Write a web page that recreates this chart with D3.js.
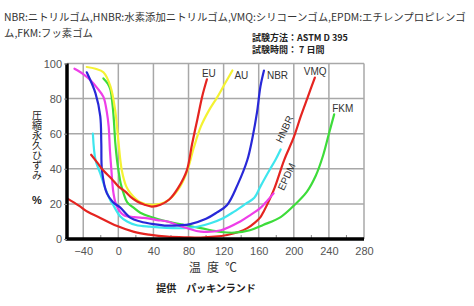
<!DOCTYPE html>
<html>
<head>
<meta charset="utf-8">
<script src="https://cdn.jsdelivr.net/npm/d3@7"></script>
<style>
  body { margin: 0; background: #fff; }
  svg { display: block; }
  text { font-family: "Liberation Sans", Arial, sans-serif; }
  .jp { font-family: "Noto Sans CJK JP", sans-serif; }
</style>
</head>
<body>
<svg id="chart" width="474" height="306"></svg>
<script>
// temperature (°C) / compression set (%)
var EU_x = [-31, -24, -17, -8, 0, 8, 14, 21, 30, 38, 48, 58, 68, 78, 84, 90, 96, 101]
var EU_y = [48, 43.5, 39, 34.5, 30, 27, 24, 21.5, 19.5, 18.5, 19.5, 22.5, 29, 39, 54, 68, 82, 91]

var AU_x = [-36, -26, -17, -9, -3.5, 0, 4, 9, 14, 25, 40, 55, 68, 78, 86, 94, 103, 113, 122, 130]
var AU_y = [98, 97, 95, 87, 73, 56, 39, 30, 26, 21, 19.5, 21.5, 28, 38, 52, 64, 73, 81, 89, 96]

var NBR_x = [-36, -26, -20.6, -19.4, -18.6, -13, -6, 2, 14, 25, 40, 56, 70, 82, 100, 112, 124, 136, 147, 153, 158, 162, 166]
var NBR_y = [95, 83, 70, 54.5, 39, 26, 21, 18, 12, 10, 8.5, 7.6, 7.8, 8.5, 11.5, 15, 19.4, 31, 45, 58, 72, 87, 96]

var EPDM_x = [-50, -40, -32, -24, -17, -13, -11, -9.5, -8, -5.5, -2, 6, 18, 29, 37, 44, 56, 67, 78.5, 94, 117, 139, 150, 162, 170, 177]
var EPDM_y = [97, 94, 90.6, 86, 81, 72, 64, 50, 40, 26, 19, 13.7, 12.5, 12, 11.5, 10.8, 10, 8, 6.2, 4.2, 5, 10, 13.5, 17.7, 22, 26]

var HNBR_x = [-29, -26, -20.6, -15, -9, -6, 2, 10, 20, 36, 55, 75, 90, 105, 120, 132, 145, 155, 162, 172, 179, 185]
var HNBR_y = [60, 45, 37.4, 29, 22, 19.5, 13, 10, 8, 7, 6.3, 6.2, 7, 9, 12, 15.6, 20, 23.5, 30, 39, 45, 51]

var VMQ_x = [-58, -45, -35, -20.6, -2, 17, 35, 56, 75, 94, 110, 124, 137, 147, 156, 162, 166, 171, 178, 189, 200, 208, 216, 224]
var VMQ_y = [23, 19, 15.5, 12, 7.5, 4.2, 2.5, 1.3, 1, 0.8, 1.3, 2.3, 4, 6.2, 9.5, 12.5, 16, 21, 29, 45, 58, 70, 81, 92]

var FKM_x = [-17, -12, -9, -6.5, -5, -3.5, -1.5, 0.5, 3, 6, 10, 17, 25, 36.5, 56, 75, 94, 117, 132, 150, 165, 185, 200, 215, 225, 233, 240, 246]
var FKM_y = [91.5, 88.5, 85, 76, 67, 55, 45, 38, 31, 26, 21, 18, 15, 12.7, 10, 8, 6.2, 4, 3.6, 5, 8, 12.5, 19, 27, 36, 47, 60, 71]

var xTicks = [-40, 0, 40, 80, 120, 160, 200, 240, 280]
var xMinor = [-20, 20, 60, 100, 140, 180, 220, 260]
var yTicks = [0, 20, 40, 60, 80, 100]

var series = [
    { name: "VMQ", xs: VMQ_x, ys: VMQ_y, color: "#e52420", label: "VMQ", dx: -11, dy: -3, rot: 0 },
    { name: "FKM", xs: FKM_x, ys: FKM_y, color: "#3ddc3a", label: "FKM", dx: -2, dy: -2, rot: 0 },
    { name: "HNBR", xs: HNBR_x, ys: HNBR_y, color: "#3ee6ee", label: "HNBR", dx: 1, dy: -6, rot: -65 },
    { name: "EPDM", xs: EPDM_x, ys: EPDM_y, color: "#ee3ee8", label: "EPDM", dx: 10, dy: -2, rot: -65 },
    { name: "NBR", xs: NBR_x, ys: NBR_y, color: "#2828d8", label: "NBR", dx: 3, dy: 8, rot: 0 },
    { name: "AU", xs: AU_x, ys: AU_y, color: "#f4f232", label: "AU", dx: 2, dy: 8, rot: 0 },
    { name: "EU", xs: EU_x, ys: EU_y, color: "#e52420", label: "EU", dx: -5, dy: -2, rot: 0 }
]

var svg = d3.select("#chart")
var plotLeft = 67, plotRight = 364, plotTop = 63.5, plotBottom = 239

const X_scale = d3.scaleLinear().domain([-58.5, 280]).range([plotLeft, plotRight])
const Y_scale = d3.scaleLinear().domain([0, 100]).range([plotBottom, plotTop])

// header texts
svg.append("text").attr("class", "jp")
    .attr("x", 4).attr("y", 21)
    .attr("font-size", 10.4).attr("fill", "#333")
    .text("NBR:ニトリルゴム,HNBR:水素添加ニトリルゴム,VMQ:シリコーンゴム,EPDM:エチレンプロピレンゴ")
svg.append("text").attr("class", "jp")
    .attr("x", 4).attr("y", 37)
    .attr("font-size", 10.4).attr("fill", "#333")
    .text("ム,FKM:フッ素ゴム")
svg.append("text").attr("class", "jp")
    .attr("x", 252).attr("y", 40.5)
    .attr("font-size", 9).attr("font-weight", "bold").attr("fill", "#222")
    .text("試験方法：ASTM D 395")
svg.append("text").attr("class", "jp")
    .attr("x", 252).attr("y", 53)
    .attr("font-size", 9).attr("font-weight", "bold").attr("fill", "#222")
    .text("試験時間： 7 日間")

// grid
var grid = svg.append("g").attr("stroke", "#a8a8a8").attr("stroke-width", 1.5)
grid.selectAll(".vg").data(xTicks).join("line")
    .attr("x1", d => X_scale(d)).attr("x2", d => X_scale(d))
    .attr("y1", Y_scale(100)).attr("y2", Y_scale(0))
grid.selectAll(".hg").data(yTicks).join("line")
    .attr("x1", X_scale.range()[0]).attr("x2", X_scale.range()[1])
    .attr("y1", d => Y_scale(d)).attr("y2", d => Y_scale(d))

// minor ticks on the bottom axis, pointing up
svg.append("g").attr("stroke", "#888").attr("stroke-width", 1)
    .selectAll("line").data(xMinor).join("line")
    .attr("x1", d => X_scale(d)).attr("x2", d => X_scale(d))
    .attr("y1", Y_scale(0)).attr("y2", Y_scale(0) - 4)

// curves
var line = d3.line()
    .x(d => X_scale(d[0]))
    .y(d => Y_scale(d[1]))
    .curve(d3.curveCatmullRom.alpha(0.5))

series.forEach(s => {
    var pts = s.xs.map((x, i) => [x, s.ys[i]])
    svg.append("path")
        .attr("d", line(pts))
        .attr("fill", "none")
        .attr("stroke", s.color)
        .attr("stroke-width", 2.2)
        .attr("stroke-linecap", "round")
    var last = pts[pts.length - 1]
    var lx = X_scale(last[0]) + s.dx, ly = Y_scale(last[1]) + s.dy
    svg.append("text")
        .attr("transform", `translate(${lx},${ly}) rotate(${s.rot})`)
        .attr("font-size", 10).attr("fill", "#333")
        .text(s.label)
})

// axes
var xAxis = svg.append("g")
    .attr("transform", `translate(0,${Y_scale(0)})`)
    .call(d3.axisBottom(X_scale).tickValues(xTicks).tickSize(0).tickPadding(8))
xAxis.select(".domain").attr("stroke", "#000").attr("stroke-width", 3.5)
    .attr("d", `M${plotLeft - 1.5},0H${plotRight}`)
xAxis.selectAll("text").attr("font-size", 11).attr("fill", "#555")
    .attr("font-family", "Liberation Sans, Arial, sans-serif")

var yAxis = svg.append("g")
    .attr("transform", `translate(${X_scale.range()[0]},0)`)
    .call(d3.axisLeft(Y_scale).tickValues(yTicks).tickSize(3).tickPadding(2))
yAxis.select(".domain").attr("stroke", "#000").attr("stroke-width", 3.5)
    .attr("d", `M0,${plotTop}V${plotBottom}`)
yAxis.selectAll(".tick line").attr("stroke", "#888")
yAxis.selectAll("text").attr("font-size", 11).attr("fill", "#555")
    .attr("font-family", "Liberation Sans, Arial, sans-serif")

// axis titles
svg.append("text").attr("class", "jp")
    .attr("x", 37).attr("y", 110)
    .attr("font-size", 10).attr("fill", "#222")
    .style("writing-mode", "vertical-rl")
    .style("text-orientation", "upright")
    .text("圧縮永久ひずみ")
svg.append("text")
    .attr("x", 37).attr("y", 204)
    .attr("text-anchor", "middle")
    .attr("font-size", 11).attr("font-weight", "bold").attr("fill", "#222")
    .text("%")

svg.append("text").attr("class", "jp")
    .attr("x", 216).attr("y", 272)
    .attr("text-anchor", "middle")
    .attr("font-size", 12).attr("fill", "#333")
    .style("letter-spacing", "6px")
    .text("温度℃")
svg.append("text").attr("class", "jp")
    .attr("x", 206).attr("y", 292)
    .attr("text-anchor", "middle")
    .attr("font-size", 10).attr("font-weight", "bold").attr("fill", "#222")
    .text("提供　パッキンランド")
</script>
</body>
</html>
